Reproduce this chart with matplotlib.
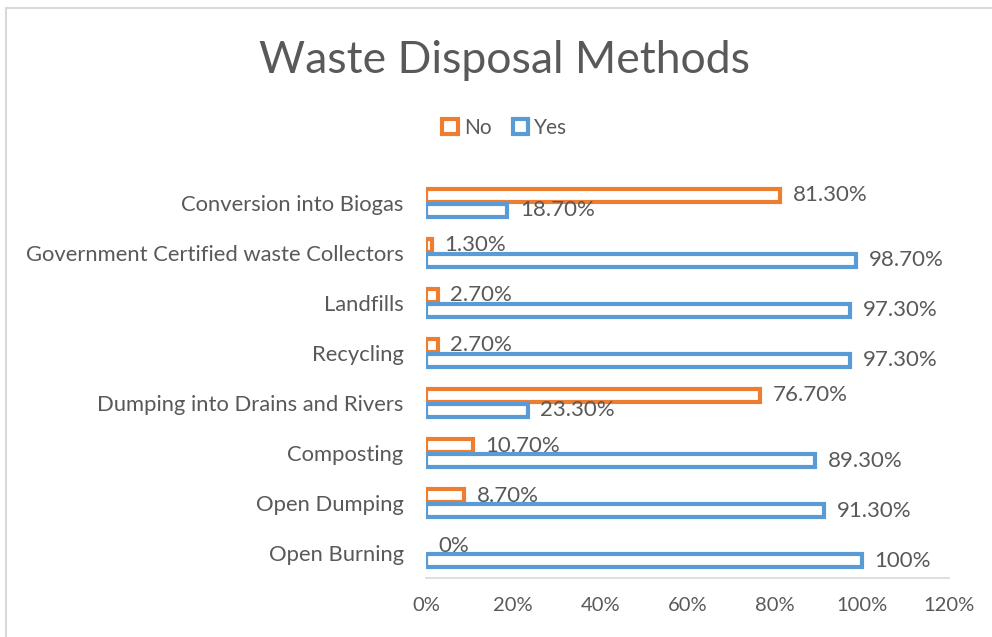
import matplotlib.pyplot as plt
from matplotlib.patches import Patch
from matplotlib.lines import Line2D
import numpy as np

plt.rcParams['font.family'] = ['Lato', 'DejaVu Sans']

# categories bottom to top
methods = ["Open Burning", "Open Dumping", "Composting",
           "Dumping into Drains and Rivers", "Recycling", "Landfills",
           "Government Certified waste Collectors", "Conversion into Biogas"]
yes_vals = [100, 91.3, 89.3, 23.3, 97.3, 97.3, 98.7, 18.7]
no_vals = [0, 8.7, 10.7, 76.7, 2.7, 2.7, 1.3, 81.3]
yes_labels = ["100%", "91.30%", "89.30%", "23.30%", "97.30%", "97.30%", "98.70%", "18.70%"]
no_labels = ["0%", "8.70%", "10.70%", "76.70%", "2.70%", "2.70%", "1.30%", "81.30%"]
xticks = [0, 20, 40, 60, 80, 100, 120]

orange = "#ED7D31"
blue = "#5B9BD5"
gray = "#595959"

fig = plt.figure(figsize=(9.92, 6.37), dpi=100)
ax = fig.add_axes([0.4294, 0.0926, 0.5273, 0.628])

y = np.arange(len(methods))
h = 0.245
off = 0.15
lw = 3.0

no_lw = [lw if v > 0 else 0 for v in no_vals]
ax.barh(y + off, no_vals, height=h, facecolor="white", edgecolor=orange, linewidth=no_lw)
ax.barh(y - off, yes_vals, height=h, facecolor="white", edgecolor=blue, linewidth=lw)

for i in range(len(methods)):
    ax.annotate(no_labels[i], (no_vals[i], y[i] + off), xytext=(9, 0), textcoords="offset points",
                va="center", ha="left", fontsize=16, color=gray)
    ax.annotate(yes_labels[i], (yes_vals[i], y[i] - off), xytext=(9, 0), textcoords="offset points",
                va="center", ha="left", fontsize=16, color=gray)

ax.set_xlim(0, 120)
ax.set_ylim(-0.5, len(methods) - 0.5)
ax.set_xticks(xticks)
ax.set_xticklabels([str(t) + "%" for t in xticks])
ax.set_yticks(y)
ax.set_yticklabels(methods)
ax.tick_params(axis="both", length=0, labelsize=15.8, labelcolor=gray)
ax.tick_params(axis="x", labelsize=14.5)
ax.tick_params(axis="y", pad=16)
ax.tick_params(axis="x", pad=14)
for s in ["top", "right", "left"]:
    ax.spines[s].set_visible(False)
ax.spines["bottom"].set_color("#d9d9d9")
ax.spines["bottom"].set_linewidth(1.2)

fig.text(0.509, 0.905, "Waste Disposal Methods", ha="center", va="center",
         fontsize=32, color=gray)

handles = [Patch(facecolor="white", edgecolor=orange, linewidth=3, label="No"),
           Patch(facecolor="white", edgecolor=blue, linewidth=3, label="Yes")]
fig.legend(handles=handles, loc="center", bbox_to_anchor=(0.509, 0.799), ncol=2, frameon=False,
           fontsize=15, labelcolor=gray, handlelength=0.75, handleheight=0.75,
           handletextpad=0.3, columnspacing=1.0)

# chart border (left and top)
fig.add_artist(Line2D([0.0065, 0.0065], [0, 0.988], color="#d9d9d9", linewidth=1.5))
fig.add_artist(Line2D([0.0065, 1], [0.988, 0.988], color="#d9d9d9", linewidth=1.5))

fig.savefig("out.png", dpi=100)
